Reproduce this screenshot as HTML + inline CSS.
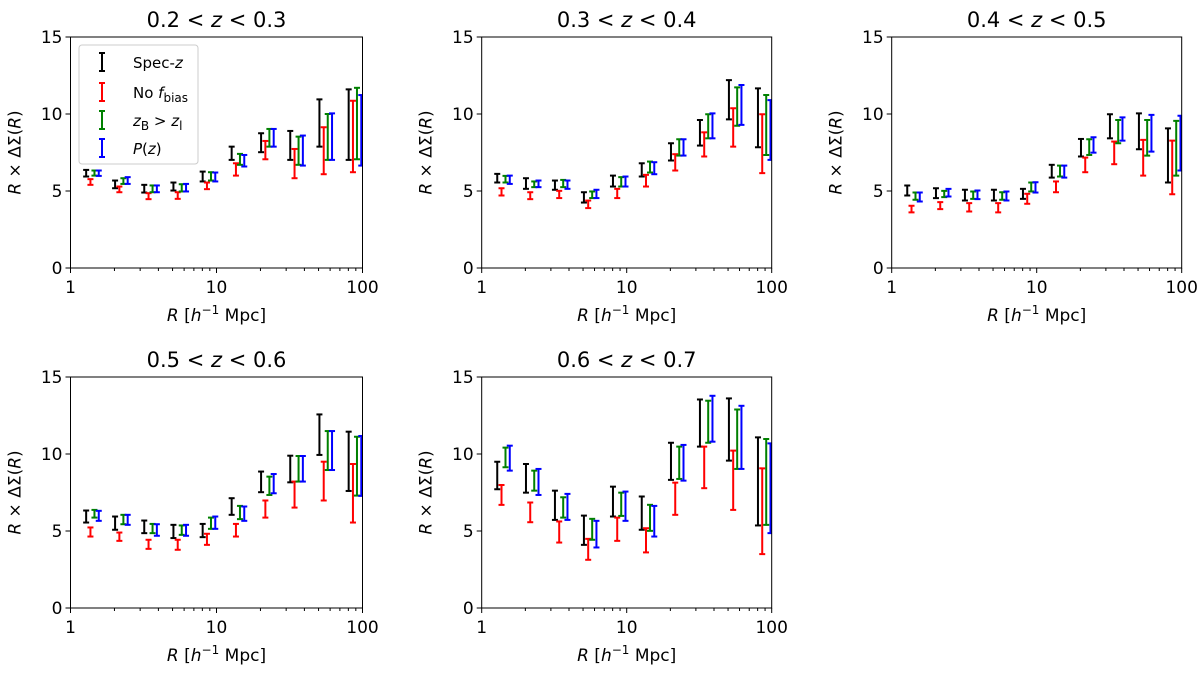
<!DOCTYPE html>
<html><head><meta charset="utf-8"><style>
body{margin:0;background:#fff;}
svg{display:block;font-family:"DejaVu Sans","Liberation Sans",sans-serif;}
</style></head><body>
<svg id="fig" width="1200" height="673" viewBox="0 0 1200 673"></svg>
<script>
const radii = [1.28,2.02,3.2,5.07,8.04,12.7,20.2,32.0,50.7,80.4];
const seriesNames = ["Spec-z","No f_bias","zB > zl","P(z)"];
const seriesColors = ["#000000","#ff0000","#008000","#0000ff"];
const seriesShift = [1.0,1.07,1.14,1.22];
const panelTitles = ["0.2","0.3","0.4","0.5","0.6","0.7"];
const yTicks = [0,5,10,15];
const xTicks = [1,10,100];
const p1Lo = [[5.94,5.18,4.90,5.03,5.62,7.02,7.52,7.02,7.88,7.02],[5.40,4.92,4.47,4.49,5.12,6.0,7.06,5.83,6.09,6.22],[6.0,5.46,4.92,4.97,5.68,6.70,7.88,6.70,7.02,7.06],[5.98,5.46,4.92,4.97,5.62,6.59,7.88,6.65,7.02,6.65]];
const p1Hi = [[6.37,5.68,5.40,5.55,6.26,7.88,8.75,8.9,10.95,11.6],[5.77,5.29,4.86,4.92,5.55,6.8,8.25,7.73,9.14,10.86],[6.33,5.83,5.36,5.44,6.22,7.41,9.03,8.53,10.0,11.7],[6.33,5.9,5.36,5.46,6.2,7.34,9.03,8.6,10.04,11.23]];
const p2Lo = [[5.55,5.14,5.08,4.25,5.29,5.94,6.98,7.95,9.65,7.84],[4.71,4.47,4.54,3.89,4.54,5.29,6.33,7.24,7.88,6.16],[5.55,5.25,5.25,4.54,5.29,6.2,7.3,8.42,9.24,7.34],[5.46,5.25,5.14,4.54,5.29,6.09,7.3,8.42,9.29,7.02]];
const p2Hi = [[6.11,5.83,5.68,4.92,6.0,6.8,8.1,9.61,12.2,11.66],[5.18,4.92,5.01,4.38,5.14,6.05,7.39,8.81,10.37,9.98],[5.98,5.62,5.72,4.97,5.9,6.91,8.36,9.98,11.73,11.23],[6.0,5.68,5.68,5.08,5.94,6.87,8.36,10.04,11.88,10.9]];
const p3Lo = [[4.71,4.54,4.38,4.38,4.49,5.87,7.24,8.42,7.71,5.55],[3.61,3.82,3.67,3.61,4.17,4.92,6.22,6.74,6.0,4.79],[4.43,4.6,4.49,4.43,4.97,5.94,7.34,8.1,7.3,6.0],[4.32,4.64,4.47,4.38,4.9,5.87,7.49,8.27,7.56,6.33]];
const p3Hi = [[5.36,5.18,5.08,5.08,5.14,6.70,8.38,9.98,10.04,9.07],[4.04,4.28,4.21,4.21,4.82,5.62,7.17,8.21,8.32,8.27],[4.9,5.01,4.97,4.92,5.55,6.65,8.36,9.61,9.61,9.55],[4.9,5.14,5.03,4.97,5.57,6.65,8.49,9.78,9.94,9.89]];
const p4Lo = [[5.55,5.08,4.86,4.54,4.6,6.05,7.52,8.16,9.94,7.6],[4.64,4.36,3.84,3.78,4.1,4.64,5.87,6.52,6.98,5.55],[5.87,5.44,4.86,4.75,5.14,5.77,7.34,8.21,8.96,7.3],[5.66,5.4,4.69,4.69,5.14,5.66,7.45,8.21,8.96,7.28]];
const p4Hi = [[6.33,5.94,5.68,5.4,5.46,7.13,8.86,9.89,12.57,11.45],[5.23,4.9,4.43,4.43,4.82,5.46,6.98,8.21,9.5,9.35],[6.37,6.05,5.46,5.36,5.87,6.63,8.53,9.87,11.49,11.12],[6.31,6.05,5.44,5.4,5.94,6.59,8.7,9.87,11.49,11.17]];
const p5Lo = [[7.71,7.49,5.72,4.1,5.94,5.08,8.32,10.48,9.57,5.36],[6.7,5.57,4.25,3.13,4.36,3.61,6.05,7.78,6.37,3.5],[9.14,7.62,5.87,4.43,5.98,5.01,8.38,10.73,9.03,5.4],[8.92,7.34,5.72,3.93,5.66,4.64,8.27,10.8,9.03,4.86]];
const p5Hi = [[9.5,9.35,7.62,6.0,7.88,7.24,10.73,13.54,13.61,11.08],[7.99,6.85,5.62,4.49,5.87,5.18,8.14,10.48,10.22,9.07],[10.41,8.92,7.19,5.79,7.49,6.7,10.48,13.46,12.89,10.97],[10.54,9.03,7.41,5.66,7.56,6.63,10.59,13.78,13.13,10.69]];
const panelLo = [p1Lo,p2Lo,p3Lo,p4Lo,p5Lo];
const panelHi = [p1Hi,p2Hi,p3Hi,p4Hi,p5Hi];

const NS="http://www.w3.org/2000/svg";
const svg=document.getElementById('fig');
function mk(tag,attrs,parent){const e=document.createElementNS(NS,tag);for(const k in attrs)e.setAttribute(k,attrs[k]);(parent||svg).appendChild(e);return e;}
const boxes=[[70.5,37,362.5,268],[481.7,37,771.7,268],[891.7,37,1181.7,268],[70.5,377,362.5,608],[481.7,377,771.7,608]];

boxes.forEach((b,pi)=>{
  const [x0,y0,x1,y1]=b;
  const g=mk('g',{});
  
  
  const sx=v=>x0+(Math.log10(v)/2)*(x1-x0);
  const sy=v=>y1-(v/15)*(y1-y0);
  const clip=mk('clipPath',{id:'c'+pi},g);
  mk('rect',{x:x0,y:y0,width:x1-x0,height:y1-y0},clip);
  const t=mk('text',{x:(x0+x1)/2,y:y0-10,'text-anchor':'middle','font-size':'21'},g);
  
  
  t.innerHTML=panelTitles[pi]+' &lt; <tspan font-style="italic">z</tspan> &lt; '+panelTitles[pi+1];
  const bg=mk('g',{'clip-path':'url(#c'+pi+')'},g);
  for(let s=0;s<4;s++){
    for(let i=0;i<radii.length;i++){
      const x=sx(radii[i]*seriesShift[s]);
      const ya=sy(panelLo[pi][s][i]),yb=sy(panelHi[pi][s][i]);
      const eb=mk('g',{stroke:seriesColors[s],'stroke-width':'2',fill:'none'},bg);
      
      
      mk('line',{x1:x,x2:x,y1:ya,y2:yb},eb);
      mk('line',{x1:x-3,x2:x+3,y1:ya,y2:ya},eb);
      mk('line',{x1:x-3,x2:x+3,y1:yb,y2:yb},eb);
    }
  }
  const fr=mk('rect',{x:x0,y:y0,width:x1-x0,height:y1-y0,fill:'none',stroke:'#000','stroke-width':'1'},g);
  
  
  yTicks.forEach(v=>{
    const y=sy(v);
    mk('line',{x1:x0-5,x2:x0,y1:y,y2:y,stroke:'#000'},g);
    const tl=mk('text',{x:x0-8,y:y+6,'text-anchor':'end','font-size':'17'},g);
    
    
    tl.textContent=v;
  });
  for(let d=0;d<2;d++)for(let m=2;m<10;m++){const x=sx(m*Math.pow(10,d));mk('line',{x1:x,x2:x,y1:y1,y2:y1+3,stroke:'#000'},g);}
  xTicks.forEach(v=>{
    const x=sx(v);
    mk('line',{x1:x,x2:x,y1:y1,y2:y1+5,stroke:'#000'},g);
    const tl=mk('text',{x:x,y:y1+25,'text-anchor':'middle','font-size':'17'},g);
    
    
    tl.textContent=v;
  });
  const xl=mk('text',{x:(x0+x1)/2,y:y1+53,'text-anchor':'middle','font-size':'17'},g);
  
  
  xl.innerHTML='<tspan font-style="italic">R</tspan> [<tspan font-style="italic">h</tspan><tspan dy="-7" font-size="12">−1</tspan><tspan dy="7"> Mpc]</tspan>';
  const yl=mk('text',{transform:'translate('+(x0-50)+','+((y0+y1)/2)+') rotate(-90)','text-anchor':'middle','font-size':'17'},g);
  
  
  yl.innerHTML='<tspan font-style="italic">R</tspan> × ΔΣ(<tspan font-style="italic">R</tspan>)';
});

const lg=mk('g',{});


mk('rect',{x:79,y:45,width:119,height:119,rx:3,fill:'#fff','fill-opacity':'0.85',stroke:'#ccc'},lg);
const labels=['Spec-<tspan font-style="italic">z</tspan>','No <tspan font-style="italic">f</tspan><tspan dy="4" font-size="12">bias</tspan>','<tspan font-style="italic">z</tspan><tspan dy="4" font-size="12">B</tspan><tspan dy="-4"> &gt; </tspan><tspan font-style="italic">z</tspan><tspan dy="4" font-size="12">l</tspan>','<tspan font-style="italic">P</tspan>(<tspan font-style="italic">z</tspan>)'];
[62,92,120,148].forEach((y,s)=>{
  const e=mk('g',{},lg);
  
  
  const c=seriesColors[s];
  mk('line',{x1:102,x2:102,y1:y-9,y2:y+9,stroke:c,'stroke-width':'2'},e);
  mk('line',{x1:99,x2:105,y1:y-9,y2:y-9,stroke:c,'stroke-width':'2'},e);
  mk('line',{x1:99,x2:105,y1:y+9,y2:y+9,stroke:c,'stroke-width':'2'},e);
  const tx=mk('text',{x:133,y:y+6,'font-size':'15'},e);
  tx.innerHTML=labels[s];
});
</script>
</body></html>
